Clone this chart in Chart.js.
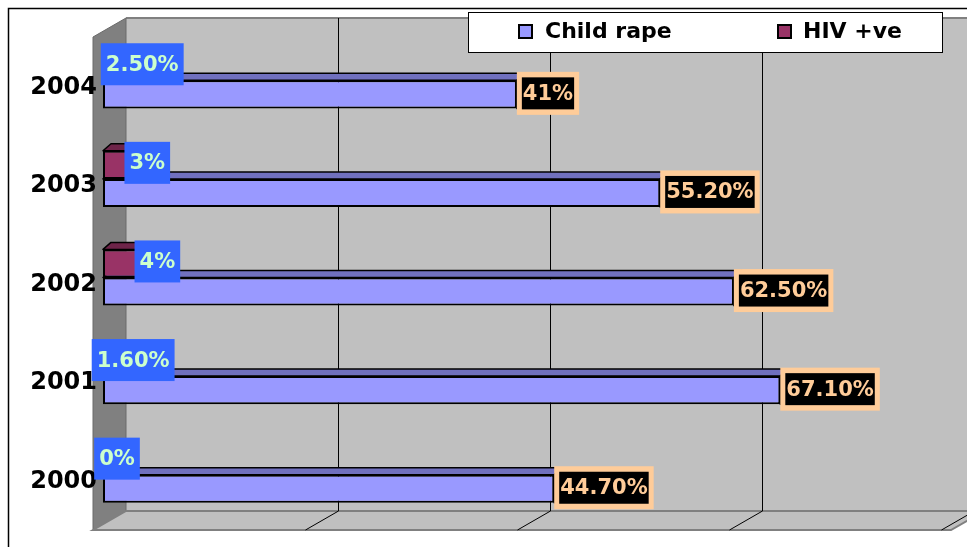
<!DOCTYPE html>
<html>
<head>
<meta charset="utf-8">
<script src="https://cdn.jsdelivr.net/npm/chart.js@4.4.1/dist/chart.umd.min.js"></script>
<style>
  html, body { margin: 0; padding: 0; background: #fff; }
  #wrap { width: 967px; height: 547px; }
</style>
</head>
<body>
<div id="wrap"><canvas id="c" width="967" height="547"></canvas></div>
<script>
// ---- data ----
const categories = ['2000', '2001', '2002', '2003', '2004'];
const seriesNames = ['Child rape', 'HIV +ve'];
const childRape = [44.7, 67.1, 62.5, 55.2, 41];
const hivPositive = [0, 1.6, 4, 3, 2.5];

// ---- style / geometry ----
const X_MAX = 85;
const GRID_STEP = 21;
const FONT = '"DejaVu Sans", Verdana, sans-serif';
const COLORS = {
  child: { front: '#9999FF', top: '#7070BE' },
  hiv: { front: '#993366', top: '#6E2449' }
};
const BAR_DEPTH = { dx: 8, dy: -7 };
const WALL_FRONT = { dx: -10, dy: 6 };
const WALL_BACK = { dx: 23, dy: -13 };

function fmtPct(v) {
  return (Number.isInteger(v) ? String(v) : v.toFixed(2)) + '%';
}

function barBox(el) {
  const p = el.getProps(['x', 'y', 'base', 'height'], true);
  return {
    left: Math.min(p.x, p.base), right: Math.max(p.x, p.base),
    top: p.y - p.height / 2, bottom: p.y + p.height / 2, cy: p.y
  };
}

function poly(ctx, pts, fill, stroke, lw) {
  ctx.beginPath();
  ctx.moveTo(pts[0][0], pts[0][1]);
  for (let i = 1; i < pts.length; i++) ctx.lineTo(pts[i][0], pts[i][1]);
  ctx.closePath();
  if (fill) { ctx.fillStyle = fill; ctx.fill(); }
  if (stroke) { ctx.strokeStyle = stroke; ctx.lineWidth = lw || 1; ctx.stroke(); }
}

const wallsPlugin = {
  id: 'walls',
  beforeDraw(chart) {
    const { ctx, chartArea: { right, top, bottom }, scales: { x } } = chart;
    const x0 = x.getPixelForValue(0);
    ctx.save();
    ctx.fillStyle = '#fff';
    ctx.fillRect(0, 0, chart.width, chart.height);
    // back wall
    poly(ctx, [[x0 + WALL_BACK.dx, top + WALL_BACK.dy], [chart.width + 60, top + WALL_BACK.dy],
               [chart.width + 60, bottom + WALL_BACK.dy], [x0 + WALL_BACK.dx, bottom + WALL_BACK.dy]], '#C0C0C0');
    ctx.strokeStyle = '#808080'; ctx.lineWidth = 2;
    ctx.beginPath(); ctx.moveTo(x0 + WALL_BACK.dx, top + WALL_BACK.dy); ctx.lineTo(chart.width + 60, top + WALL_BACK.dy); ctx.stroke();
    // side wall
    poly(ctx, [[x0 + WALL_FRONT.dx, top + WALL_FRONT.dy], [x0 + WALL_BACK.dx, top + WALL_BACK.dy],
               [x0 + WALL_BACK.dx, bottom + WALL_BACK.dy], [x0 + WALL_FRONT.dx, bottom + WALL_FRONT.dy]], '#808080', '#6a6a6a', 1);
    // floor
    const fl = [[x0 + WALL_FRONT.dx, bottom + WALL_FRONT.dy], [x0 + WALL_BACK.dx, bottom + WALL_BACK.dy],
                [right + WALL_BACK.dx, bottom + WALL_BACK.dy], [right + WALL_FRONT.dx, bottom + WALL_FRONT.dy]];
    poly(ctx, fl, '#C0C0C0', '#808080', 2);
    // grid lines on back wall and floor
    ctx.strokeStyle = '#000'; ctx.lineWidth = 1;
    for (let v = GRID_STEP; v <= X_MAX; v += GRID_STEP) {
      const px = Math.round(x.getPixelForValue(v)) + 0.5;
      ctx.beginPath();
      ctx.moveTo(px + WALL_BACK.dx, top + WALL_BACK.dy);
      ctx.lineTo(px + WALL_BACK.dx, bottom + WALL_BACK.dy);
      ctx.lineTo(px + WALL_FRONT.dx, bottom + WALL_FRONT.dy);
      ctx.stroke();
    }
    // outer border
    ctx.strokeStyle = '#000'; ctx.lineWidth = 1.5;
    ctx.strokeRect(8.5, 8.5, chart.width + 40, chart.height + 40);
    ctx.restore();
  },
  beforeDatasetsDraw(chart) {
    const ctx = chart.ctx;
    ctx.save();
    ctx.lineJoin = 'round';
    const order = [1, 0];
    order.forEach(di => {
      const meta = chart.getDatasetMeta(di);
      const col = di === 1 ? COLORS.child : COLORS.hiv;
      meta.data.forEach(el => {
        const b = barBox(el);
        if (b.right - b.left < 1) return;
        const { dx, dy } = BAR_DEPTH;
        poly(ctx, [[b.left, b.top], [b.left + dx, b.top + dy], [b.right + dx, b.top + dy], [b.right, b.top]], col.top, '#000', 1.5);
        poly(ctx, [[b.right, b.top], [b.right + dx, b.top + dy], [b.right + dx, b.bottom + dy], [b.right, b.bottom]], col.top, '#000', 1.5);
      });
    });
    ctx.restore();
  },
  afterDatasetsDraw(chart) {
    const ctx = chart.ctx;
    ctx.save();
    ctx.font = 'bold 21px ' + FONT;
    ctx.textAlign = 'center';
    ctx.textBaseline = 'middle';
    // child rape labels
    chart.getDatasetMeta(1).data.forEach((el, i) => {
      const b = barBox(el);
      const txt = fmtPct(chart.data.datasets[1].data[i]);
      const tw = ctx.measureText(txt).width;
      const iw = tw + 2, ih = 32, ow = iw + 10, oh = 43;
      const lx = b.right, cy = b.cy - 1;
      ctx.fillStyle = '#FFCC99';
      ctx.fillRect(lx, cy - oh / 2, ow, oh);
      ctx.fillStyle = '#000';
      ctx.fillRect(lx + 5, cy - ih / 2, iw, ih);
      ctx.fillStyle = '#FFCC99';
      ctx.fillText(txt, lx + ow / 2, cy + 1);
    });
    // HIV labels
    chart.getDatasetMeta(0).data.forEach((el, i) => {
      const b = barBox(el);
      const txt = fmtPct(chart.data.datasets[0].data[i]);
      const tw = ctx.measureText(txt).width;
      const w = tw + 10, h = 42;
      const cx = b.right + 14, cy = b.cy - 2;
      ctx.fillStyle = '#3366FF';
      ctx.fillRect(cx - w / 2, cy - h / 2, w, h);
      ctx.fillStyle = '#CCFFCC';
      ctx.fillText(txt, cx, cy + 1);
    });
    ctx.restore();
  },
  afterDraw(chart) {
    const ctx = chart.ctx;
    ctx.save();
    ctx.fillStyle = '#fff';
    ctx.fillRect(468, 12, 474, 40);
    ctx.strokeStyle = '#000'; ctx.lineWidth = 1;
    ctx.strokeRect(468.5, 12.5, 474, 40);
    const items = [
      { name: chart.data.datasets[1].label, color: COLORS.child.front, bx: 519, tx: 545 },
      { name: chart.data.datasets[0].label, color: COLORS.hiv.front, bx: 778, tx: 803 }
    ];
    ctx.font = 'bold 22px ' + FONT;
    ctx.textBaseline = 'middle';
    ctx.textAlign = 'left';
    items.forEach(it => {
      ctx.fillStyle = it.color;
      ctx.fillRect(it.bx, 25, 13, 13);
      ctx.strokeStyle = '#000'; ctx.lineWidth = 2;
      ctx.strokeRect(it.bx, 25, 13, 13);
      ctx.fillStyle = '#000';
      ctx.fillText(it.name, it.tx, 32);
    });
    ctx.restore();
  }
};

new Chart(document.getElementById('c'), {
  type: 'bar',
  data: {
    labels: categories,
    datasets: [
      { label: seriesNames[1], data: hivPositive, backgroundColor: COLORS.hiv.front,
        borderColor: '#000', borderWidth: 2, borderSkipped: false },
      { label: seriesNames[0], data: childRape, backgroundColor: COLORS.child.front,
        borderColor: '#000', borderWidth: 2, borderSkipped: false }
    ]
  },
  options: {
    indexAxis: 'y',
    responsive: false,
    animation: false,
    devicePixelRatio: 1,
    layout: { padding: { top: 31, bottom: 23, left: 0, right: 6 } },
    datasets: { bar: { categoryPercentage: 0.57, barPercentage: 1.0 } },
    plugins: { legend: { display: false }, tooltip: { enabled: false } },
    scales: {
      x: { display: false, min: 0, max: X_MAX },
      y: {
        reverse: true,
        grid: { display: false, drawTicks: false },
        border: { display: false },
        ticks: { color: '#000', padding: 6, labelOffset: 7, font: { family: FONT, size: 24, weight: 'bold' } },
        afterFit(scale) { scale.width = 103; }
      }
    }
  },
  plugins: [wallsPlugin]
});
</script>
</body>
</html>
